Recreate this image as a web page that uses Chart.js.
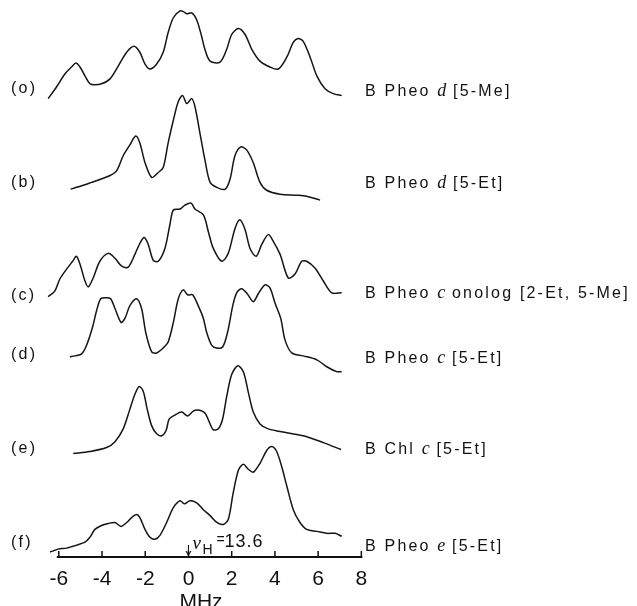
<!DOCTYPE html>
<html><head><meta charset="utf-8">
<script src="https://cdn.jsdelivr.net/npm/chart.js@4"></script>
<style>
html,body{margin:0;padding:0;background:#fff;overflow:hidden}
#wrap{position:relative;width:637px;height:606px;overflow:hidden}
canvas{position:absolute;left:0;top:0}
.lbl{position:absolute;font-family:'Liberation Sans',Arial,sans-serif;color:#111;white-space:nowrap;transform:translateY(-50%);line-height:1}
.tag{left:11px;font-size:16px;letter-spacing:2.2px}
.name{left:365px;font-size:16px;letter-spacing:2.2px}
.name i{font-family:'Liberation Serif',serif;font-style:italic;font-size:18px;letter-spacing:0}
</style></head>
<body><div id="wrap"><canvas id="c" width="637" height="606"></canvas></div>
<script>
// ---- data ----
const tickValues = [-6,-4,-2,0,2,4,6,8];
const traceTags = ['(o)','(b)','(c)','(d)','(e)','(f)'];
const compoundPrefix = ['B Pheo ','B Pheo ','B Pheo ','B Pheo ','B Chl ','B Pheo '];
const compoundLetter = ['d','d','c','c','c','e'];
const compoundSuffix = [' [5-Me]',' [5-Et]',' onolog [2-Et, 5-Me]',' [5-Et]',' [5-Et]',' [5-Et]'];
const stackOffsets = [465,373,264,203,105,5];

const traceO_MHz = [-6.49,-6.10,-5.72,-5.41,-5.21,-5.02,-4.79,-4.56,-4.33,-4.02,-3.63,-3.25,-2.86,-2.52,-2.25,-2.01,-1.78,-1.47,-1.17,-0.94,-0.70,-0.39,-0.21,-0.08,0.15,0.38,0.61,0.76,1.00,1.46,1.77,2.00,2.31,2.62,2.93,3.31,3.77,4.16,4.55,4.85,5.08,5.31,5.63,5.94,6.32,6.70,7.09];
const traceO_amp = [0,12,25,32,36,32,23,15,14,15,20,33,47,53,47,35,30,35,47,67,82,89,88,86,87,80,63,50,38,37,50,65,71,65,50,38,32,30,42,57,61,58,42,23,10,5,3];

const traceB_MHz = [-5.45,-5.18,-4.87,-4.48,-4.10,-3.63,-3.32,-3.02,-2.71,-2.44,-2.25,-2.01,-1.70,-1.40,-1.17,-0.94,-0.70,-0.47,-0.27,-0.08,0.15,0.30,0.53,0.76,1.00,1.31,1.69,1.92,2.15,2.42,2.69,3.00,3.31,3.62,4.24,5.01,5.47,6.09];
const traceB_amp = [0,2,4,7,10,14,19,34,45,54,47,27,12,17,22,47,70,89,95,87,92,84,57,30,7,2,0,10,34,43,40,27,7,-1,-5,-6,-7,-11];

const traceC_MHz = [-6.49,-6.18,-5.95,-5.64,-5.36,-5.18,-4.99,-4.79,-4.64,-4.41,-4.10,-3.71,-3.40,-3.09,-2.79,-2.48,-2.25,-2.05,-1.86,-1.63,-1.40,-1.09,-0.86,-0.70,-0.39,-0.16,0.12,0.30,0.69,0.92,1.15,1.54,1.84,2.15,2.38,2.62,2.85,3.13,3.39,3.69,3.93,4.24,4.62,4.93,5.24,5.47,5.86,6.24,6.63,7.09];
const traceC_amp = [0,6,18,28,36,41,31,16,10,19,36,44,39,31,30,43,54,60,53,37,36,49,73,88,89,93,95,89,83,66,49,36,44,69,78,68,49,41,53,63,56,43,19,23,36,36,29,16,4,4];

const traceD_MHz = [-5.49,-5.25,-4.94,-4.71,-4.44,-4.25,-4.06,-3.79,-3.60,-3.40,-3.12,-2.94,-2.71,-2.40,-2.17,-1.97,-1.70,-1.47,-1.17,-0.94,-0.70,-0.47,-0.24,-0.04,0.19,0.45,0.69,0.84,1.07,1.31,1.58,1.81,2.05,2.23,2.46,2.72,3.00,3.23,3.54,3.77,4.00,4.27,4.47,4.78,5.31,5.94,6.40,6.86,7.09];
const traceD_amp = [0,1,3,12,30,47,59,60,59,49,35,39,52,59,49,24,5,4,9,15,35,59,68,63,63,52,39,25,12,9,10,25,52,65,69,64,56,64,73,70,55,39,17,4,1,-3,-10,-15,-15];

const traceE_MHz = [-5.33,-4.56,-3.79,-3.40,-3.02,-2.71,-2.48,-2.28,-2.09,-1.91,-1.70,-1.47,-1.24,-1.04,-0.89,-0.63,-0.31,-0.04,0.22,0.45,0.76,1.00,1.15,1.38,1.58,1.77,2.00,2.28,2.54,2.77,3.00,3.31,3.69,4.55,5.47,6.24,7.06];
const traceE_amp = [0,2,6,12,25,45,60,68,63,45,28,20,18,23,35,39,42,38,43,44,41,30,24,25,35,58,80,89,83,62,42,30,25,21,17,11,4];

const traceF_MHz = [-6.41,-6.03,-5.64,-5.18,-4.79,-4.56,-4.33,-4.02,-3.71,-3.40,-3.12,-2.86,-2.63,-2.40,-2.25,-2.01,-1.78,-1.55,-1.32,-1.01,-0.70,-0.39,-0.19,0.07,0.38,0.69,1.00,1.31,1.61,1.84,2.07,2.31,2.54,2.77,3.00,3.31,3.62,3.85,4.08,4.31,4.55,4.85,5.16,5.47,5.94,6.40,6.79,7.09];
const traceF_amp = [0,3,4,7,10,15,23,27,29,30,26,30,35,38,35,23,15,13,17,30,45,52,49,52,50,43,37,30,28,33,60,83,89,84,81,90,103,107,102,87,67,43,30,23,21,19,19,16];

const nuH = '13.6';

// ---- layout (label positions) ----
const tagY = [88,182,295,354,448,542];
const nameY = [90,182,292,357,448,545];

const traces = [[traceO_MHz,traceO_amp],[traceB_MHz,traceB_amp],[traceC_MHz,traceC_amp],[traceD_MHz,traceD_amp],[traceE_MHz,traceE_amp],[traceF_MHz,traceF_amp]];

const wrap = document.getElementById('wrap');
traceTags.forEach((t,i)=>{
  const d=document.createElement('div'); d.className='lbl tag'; d.style.top=tagY[i]+'px'; d.textContent=t; wrap.appendChild(d);
  const n=document.createElement('div'); n.className='lbl name'; n.style.top=nameY[i]+'px';
  n.appendChild(document.createTextNode(compoundPrefix[i]));
  const it=document.createElement('i'); it.textContent=compoundLetter[i]; n.appendChild(it);
  n.appendChild(document.createTextNode(compoundSuffix[i]));
  wrap.appendChild(n);
});

const datasets = traces.map(([xs,hs],k)=>({
  data: xs.map((x,i)=>({x:x, y:hs[i]+stackOffsets[k]})),
  borderColor:'#151515', borderWidth:1.5, pointRadius:0, tension:0.3, fill:false
}));

const FONT = "'Liberation Sans', Arial, sans-serif";
const decor = {
  id:'decor',
  afterDraw(chart){
    const {ctx, scales:{x}} = chart;
    const yb = chart.chartArea.bottom;
    ctx.save();
    ctx.strokeStyle='#111'; ctx.fillStyle='#111';
    ctx.lineWidth=2;
    ctx.beginPath();
    ctx.moveTo(x.getPixelForValue(tickValues[0])-2, yb);
    ctx.lineTo(x.getPixelForValue(tickValues[tickValues.length-1])+1, yb);
    ctx.stroke();
    ctx.lineWidth=1.5;
    ctx.beginPath();
    tickValues.forEach(v=>{const p=x.getPixelForValue(v); ctx.moveTo(p,yb); ctx.lineTo(p,yb-6);});
    ctx.stroke();
    // nu_H marker at 0
    const p0 = x.getPixelForValue(0);
    ctx.lineWidth=1.1;
    ctx.beginPath(); ctx.moveTo(p0,yb-12); ctx.lineTo(p0,yb-2); ctx.stroke();
    ctx.beginPath(); ctx.moveTo(p0-2.5,yb-6); ctx.lineTo(p0,yb-2); ctx.lineTo(p0+2.5,yb-6); ctx.stroke();
    ctx.textBaseline='alphabetic'; ctx.textAlign='left';
    ctx.font="italic 19px 'Liberation Serif', serif"; ctx.fillText('ν', p0+4, yb-8);
    ctx.font="14px "+FONT; ctx.fillText('H', p0+14, yb-3);
    ctx.font="14px "+FONT; ctx.fillText('=', p0+28, yb-13);
    ctx.font="18px "+FONT; ctx.letterSpacing='1px'; ctx.fillText(nuH, p0+36, yb-10);
    ctx.restore();
  }
};

new Chart(document.getElementById('c'), {
  type:'line',
  data:{datasets},
  plugins:[decor],
  options:{
    responsive:false, animation:false, events:[],
    layout:{padding:{left:40,right:275,top:0,bottom:0}},
    plugins:{legend:{display:false}, tooltip:{enabled:false}},
    scales:{
      x:{type:'linear', min:-6.87, max:8.03,
         grid:{display:false}, border:{display:false},
         afterBuildTicks:(s)=>{s.ticks = tickValues.map(v=>({value:v}));},
         ticks:{color:'#111', padding:2, autoSkip:false, maxRotation:0, font:{family:FONT, size:21}},
         title:{display:true, text:'MHz', color:'#111', font:{family:FONT, size:21, lineHeight:1/3}, padding:{top:4.8,bottom:0}}
      },
      y:{display:false, min:0, max:565}
    }
  }
});
</script></body></html>
